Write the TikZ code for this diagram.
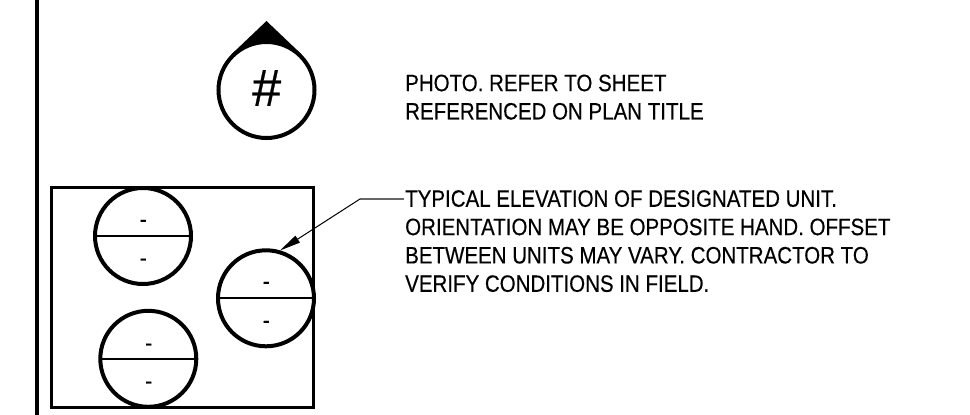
\documentclass[tikz,border=0pt]{standalone}
\usepackage{fontspec}
\setmainfont{Liberation Sans}
\newfontfamily\notefont[FakeStretch=0.865,FakeBold=0.35]{Liberation Sans}
\newfontfamily\hashfont[FakeBold=0.5]{Liberation Sans}
\usetikzlibrary{arrows.meta}
\tikzset{
  x=1pt,y=-1pt,
  thick line/.style={draw=black,line width=3.2pt},
  unit circle/.style={circle,draw=black,line width=4pt,minimum size=96pt,inner sep=0pt,outer sep=0pt},
  split line/.style={draw=black,line width=1.8pt},
  mark text/.style={anchor=base,inner sep=0pt,font=\notefont\fontsize{24}{24}\selectfont},
  note/.style={anchor=north west,align=left,inner sep=0pt,font=\notefont\fontsize{23.7}{28.35}\selectfont},
  thin line/.style={draw=black,line width=1pt}
}
\begin{document}
\begin{tikzpicture}
\useasboundingbox (0,0) rectangle (970,415);
\draw[draw=black,line width=3.4pt] (37,0) -- (37,415);
% photo key
\coordinate (pc) at (266.5,90);
\fill[black] (266.5,21) -- ([shift={(45:50pt)}]pc) -- ([shift={(135:50pt)}]pc) -- cycle;
\node[unit circle,fill=white] (photo) at (pc) {};
\node[inner sep=0pt,font=\hashfont\fontsize{52}{52}\selectfont] (hash) at (266.7,88) {\#};
\node[note] (phototext) at (405,74.4) {PHOTO. REFER TO SHEET\\REFERENCED ON PLAN TITLE};
% plan box
\draw[thick line] (51.7,187.5) rectangle (313.7,407.5);
\node[unit circle] (u1) at (143,236) {};
\node[unit circle] (u2) at (266,298.3) {};
\node[unit circle] (u3) at (148.3,358.8) {};
\draw[split line] (u1.west) -- (u1.east);
\draw[split line] (u2.west) -- (u2.east);
\draw[split line] (u3.west) -- (u3.east);
\node[mark text] at (143.3,227.3) {-};
\node[mark text] at (143.3,265.9) {-};
\node[mark text] at (266.3,289.3) {-};
\node[mark text] at (266.3,328.3) {-};
\node[mark text] at (148.7,350.9) {-};
\node[mark text] at (148.7,388.9) {-};
% note with leader
\node[note] (notetext) at (405,190) {TYPICAL ELEVATION OF DESIGNATED UNIT.\\ORIENTATION MAY BE OPPOSITE HAND. OFFSET\\BETWEEN UNITS MAY VARY. CONTRACTOR TO\\VERIFY CONDITIONS IN FIELD.};
\coordinate (elbow) at (360,199);
\coordinate (tip) at (280,250.5);
\coordinate (noteend) at (404,199);
\draw[draw=black!60,line width=1.1pt] (noteend) -- (elbow);
\draw[thin line,-{Triangle[length=21pt,width=8pt]}] (elbow) -- (tip);
\end{tikzpicture}
\end{document}
